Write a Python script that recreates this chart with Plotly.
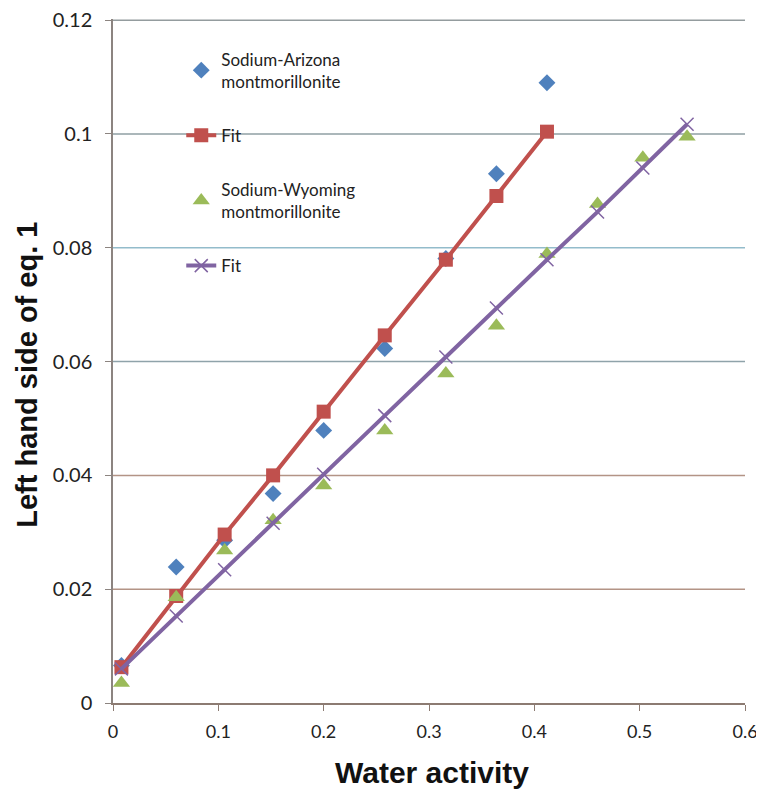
import plotly.graph_objects as go

# Data
aw_arizona = [0.008, 0.06, 0.106, 0.152, 0.2, 0.258, 0.316, 0.364, 0.412]
lhs_arizona = [0.0066, 0.0239, 0.0286, 0.0368, 0.0479, 0.0623, 0.0781, 0.0930, 0.1090]
fit_arizona = [0.0063, 0.0188, 0.0296, 0.0400, 0.0512, 0.0646, 0.0779, 0.0891, 0.1004]

aw_wyoming = [0.008, 0.06, 0.106, 0.152, 0.2, 0.258, 0.316, 0.364, 0.412, 0.460, 0.503, 0.545]
lhs_wyoming = [0.0035, 0.0186, 0.0268, 0.0321, 0.0382, 0.0479, 0.0579, 0.0663, 0.0789, 0.0877, 0.0958, 0.0995]
fit_wyoming = [0.0060, 0.0153, 0.0234, 0.0316, 0.0402, 0.0505, 0.0608, 0.0694, 0.0779, 0.0863, 0.0940, 0.1017]

x_ticks = [0, 0.1, 0.2, 0.3, 0.4, 0.5, 0.6]
x_tick_labels = ["0", "0.1", "0.2", "0.3", "0.4", "0.5", "0.6"]
y_ticks = [0, 0.02, 0.04, 0.06, 0.08, 0.1, 0.12]
y_tick_labels = ["0", "0.02", "0.04", "0.06", "0.08", "0.1", "0.12"]
grid_colors = ["#8c7b72", "#b39486", "#b39486", "#8fa3aa", "#93bccb", "#8f9fa3", "#949c9e"]

x_title = "<b>Water activity</b>"
y_title = "<b>Left hand side of eq. 1</b>"

BLUE = "#4f81bd"
RED = "#c0504d"
GREEN = "#9bbb59"
PURPLE = "#8064a2"
LABEL_FONT = "Lato, Open Sans, sans-serif"
TITLE_FONT = "Liberation Sans, Arial, sans-serif"

fig = go.Figure()
fig.add_trace(go.Scatter(
    x=aw_arizona, y=lhs_arizona, mode="markers", legendgroup="a",
    name="Sodium-Arizona<br>montmorillonite",
    marker=dict(symbol="diamond", size=13, color=BLUE)))
fig.add_trace(go.Scatter(
    x=aw_arizona, y=fit_arizona, mode="lines+markers", name="Fit", legendgroup="b",
    line=dict(color=RED, width=4),
    marker=dict(symbol="square", size=14, color=RED)))
fig.add_trace(go.Scatter(
    x=aw_wyoming, y=lhs_wyoming, mode="markers", legendgroup="c",
    name="Sodium-Wyoming<br>montmorillonite",
    marker=dict(symbol="triangle-up", size=15, color=GREEN)))
fig.add_trace(go.Scatter(
    x=aw_wyoming, y=fit_wyoming, mode="lines+markers", name="Fit", legendgroup="d",
    line=dict(color=PURPLE, width=4),
    marker=dict(symbol="x-thin", size=13, color=PURPLE,
                line=dict(color=PURPLE, width=1.5))))

# Gridlines with individual colours (drawn beneath the data)
for yv, col in zip(y_ticks[1:], grid_colors[1:]):
    fig.add_shape(type="line", xref="paper", yref="y", x0=0, x1=1, y0=yv, y1=yv,
                  line=dict(color=col, width=1.5), layer="below")

# axis titles as annotations for exact placement
fig.add_annotation(text=x_title, xref="paper", yref="paper", x=0.505, y=-0.102,
                   xanchor="center", yanchor="middle", showarrow=False,
                   font=dict(size=30, color="#111", family=TITLE_FONT))
fig.add_annotation(text=y_title, xref="paper", yref="paper", x=-0.136, y=0.48,
                   xanchor="center", yanchor="middle", showarrow=False, textangle=-90,
                   font=dict(size=29, color="#111", family=TITLE_FONT))

# the page adds an 8px body margin, so the figure is sized to fit inside the window
fig.update_layout(
    width=756, height=781,
    margin=dict(l=105, r=19, t=11, b=86),
    paper_bgcolor="white", plot_bgcolor="white",
    showlegend=True,
    legend=dict(x=0.108, y=0.967, xanchor="left", yanchor="top",
                bgcolor="rgba(255,255,255,0)",
                font=dict(family=LABEL_FONT, size=17, color="#222"),
                tracegroupgap=29),
    font=dict(family=LABEL_FONT),
)
fig.update_xaxes(
    range=[0, 0.6], tickvals=x_ticks, ticktext=x_tick_labels,
    showgrid=False, zeroline=False, automargin=False, ticklabeloverflow="allow",
    showline=True, linecolor="#8c7b72", linewidth=1.5,
    ticks="outside", ticklen=6, tickcolor="#8c7b72", ticklabelstandoff=6,
    tickfont=dict(size=18, color="#222", family=LABEL_FONT),
)
fig.update_yaxes(
    range=[0, 0.1202], tickvals=y_ticks, ticktext=y_tick_labels,
    showgrid=False, zeroline=False, automargin=False, ticklabeloverflow="allow",
    showline=True, linecolor="#8c8480", linewidth=1.5,
    ticks="outside", ticklen=6, tickcolor="#8c8480", ticklabelstandoff=9,
    tickfont=dict(size=20, color="#222", family=LABEL_FONT),
)

fig.write_html("out.html")
